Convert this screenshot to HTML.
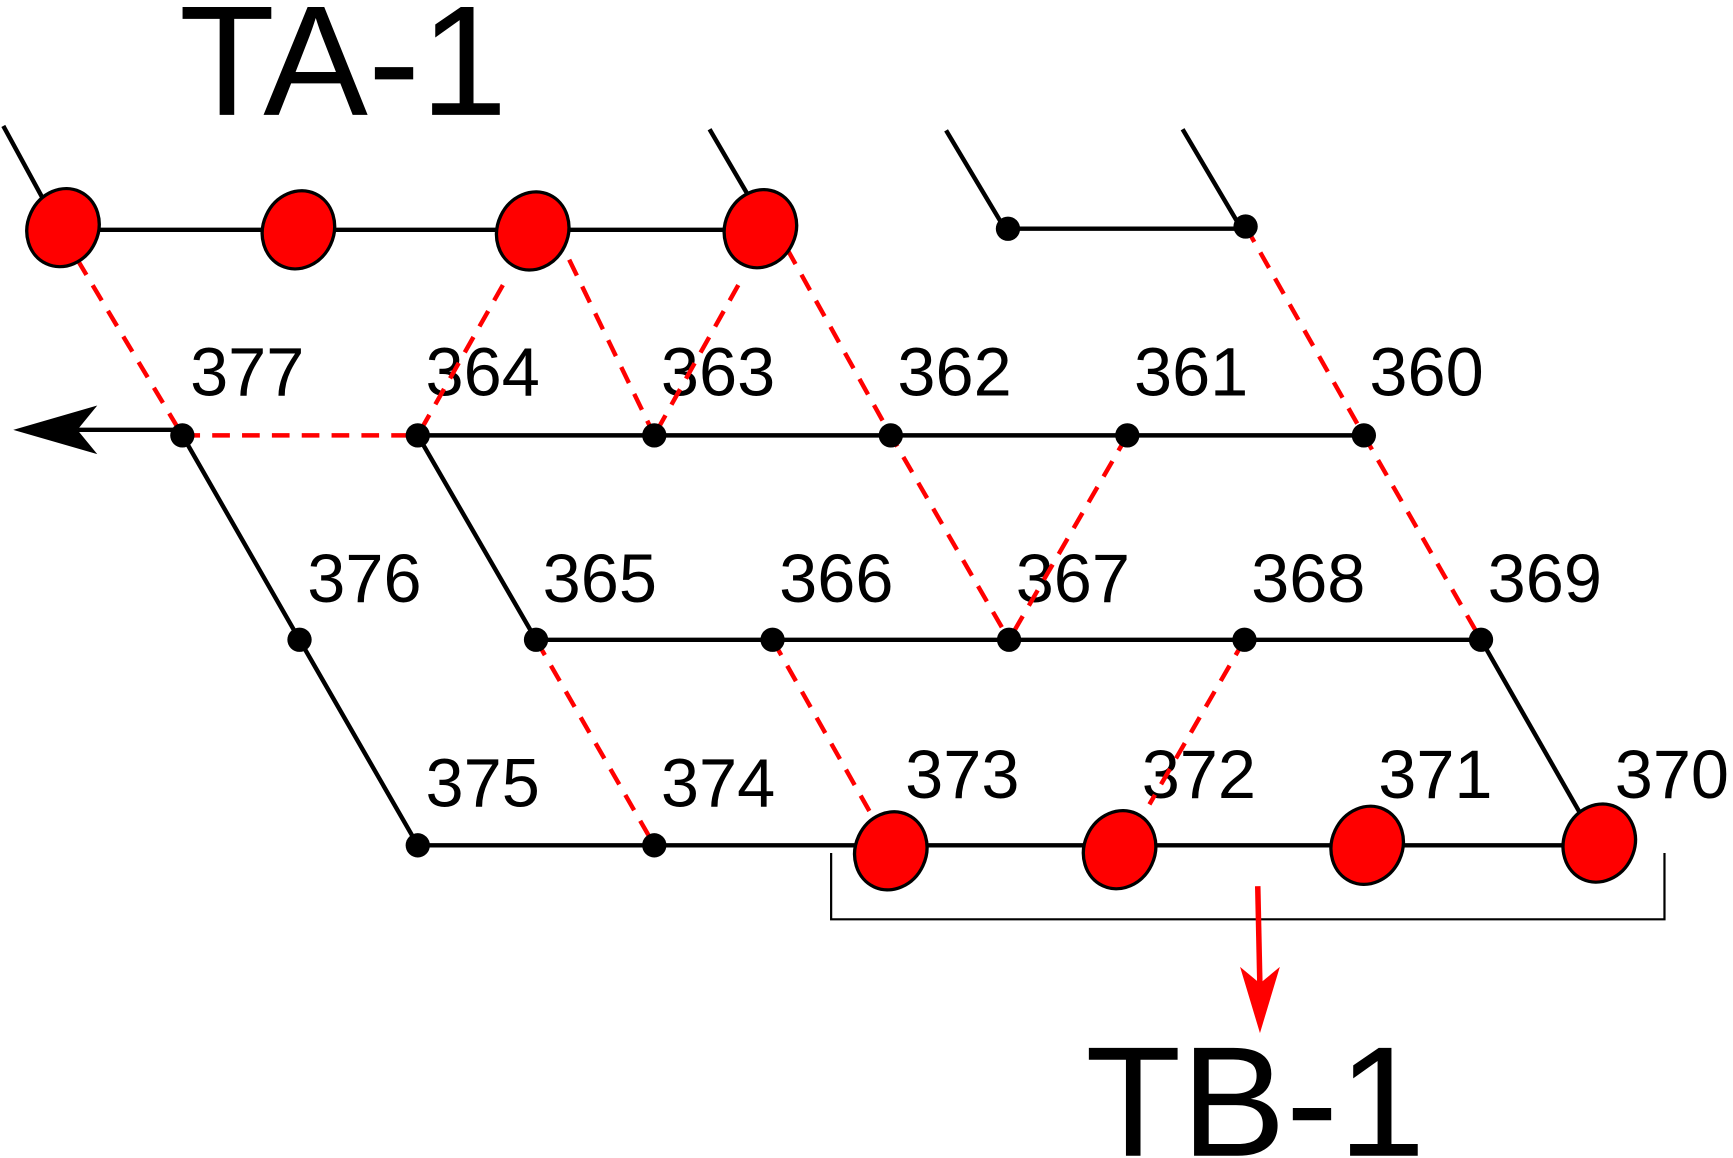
<!DOCTYPE html>
<html><head><meta charset="utf-8">
<style>html,body{margin:0;padding:0;background:#fff;width:1733px;height:1158px;overflow:hidden}</style>
</head><body>
<svg width="1733" height="1158" viewBox="0 0 1568 1048" preserveAspectRatio="none" xmlns="http://www.w3.org/2000/svg">
<g font-family="Liberation Sans, DejaVu Sans, sans-serif" fill="#000">
<text x="162" y="104" font-size="142">TA-1</text>
<text x="982" y="1046" font-size="142">TB-1</text>
<g font-size="62">
<text x="172" y="358">377</text><text x="385" y="358">364</text><text x="598" y="358">363</text>
<text x="812" y="358">362</text><text x="1026" y="358">361</text><text x="1239" y="358">360</text>
<text x="278" y="545">376</text><text x="491" y="545">365</text><text x="705" y="545">366</text>
<text x="919" y="545">367</text><text x="1132" y="545">368</text><text x="1346" y="545">369</text>
<text x="385" y="730">375</text><text x="598" y="730">374</text>
<text x="819" y="722">373</text><text x="1033" y="722">372</text><text x="1247" y="722">371</text><text x="1461" y="722">370</text>
</g>
</g>
<g stroke="#000" stroke-width="4" fill="none">
<line x1="57" y1="208" x2="688" y2="208"/>
<line x1="912" y1="207" x2="1127" y2="207"/>
<line x1="3" y1="114" x2="40" y2="182"/>
<line x1="642" y1="117" x2="680" y2="182"/>
<line x1="856" y1="118" x2="908" y2="205"/>
<line x1="1070" y1="117" x2="1122" y2="205"/>
<line x1="378" y1="394" x2="1234" y2="394"/>
<line x1="485" y1="579" x2="1340" y2="579"/>
<line x1="378" y1="765" x2="1447" y2="765"/>
<polyline points="165,394 271,579 378,765"/>
<line x1="378" y1="394" x2="485" y2="579"/>
<line x1="1340" y1="579" x2="1432" y2="740"/>
<line x1="165" y1="389" x2="70" y2="389"/>
</g>
<polygon points="12,389 88,367 70,389 88,411" fill="#000"/>
<g stroke="#f00" stroke-width="4" stroke-dasharray="16,11" fill="none">
<line x1="165" y1="394" x2="378" y2="394"/>
<line x1="70" y1="235" x2="165" y2="394"/>
<line x1="455" y1="258" x2="378" y2="394"/>
<line x1="515" y1="235" x2="592" y2="394"/>
<line x1="668" y1="258" x2="592" y2="394"/>
<polyline points="712,225 806,394 913,579"/>
<line x1="1020" y1="394" x2="913" y2="579"/>
<polyline points="1127,205 1234,394 1340,579"/>
<line x1="485" y1="579" x2="592" y2="765"/>
<line x1="699" y1="579" x2="790" y2="740"/>
<line x1="1126" y1="579" x2="1040" y2="728"/>
</g>
<g fill="#000">
<circle cx="912" cy="207" r="11"/><circle cx="1127" cy="205" r="11"/>
<circle cx="165" cy="394" r="11"/><circle cx="378" cy="394" r="11"/><circle cx="592" cy="394" r="11"/>
<circle cx="806" cy="394" r="11"/><circle cx="1020" cy="394" r="11"/><circle cx="1234" cy="394" r="11"/>
<circle cx="271" cy="579" r="11"/><circle cx="485" cy="579" r="11"/><circle cx="699" cy="579" r="11"/>
<circle cx="913" cy="579" r="11"/><circle cx="1126" cy="579" r="11"/><circle cx="1340" cy="579" r="11"/>
<circle cx="378" cy="765" r="11"/><circle cx="592" cy="765" r="11"/>
</g>
<g fill="#f00" stroke="#000" stroke-width="3">
<ellipse cx="57" cy="206" rx="32" ry="36" transform="rotate(25 57 206)"/>
<ellipse cx="270" cy="208" rx="32" ry="36" transform="rotate(25 270 208)"/>
<ellipse cx="482" cy="209" rx="32" ry="36" transform="rotate(25 482 209)"/>
<ellipse cx="688" cy="207" rx="32" ry="36" transform="rotate(25 688 207)"/>
<ellipse cx="806" cy="770" rx="32" ry="36" transform="rotate(25 806 770)"/>
<ellipse cx="1013" cy="769" rx="32" ry="36" transform="rotate(25 1013 769)"/>
<ellipse cx="1237" cy="765" rx="32" ry="36" transform="rotate(25 1237 765)"/>
<ellipse cx="1447" cy="763" rx="32" ry="36" transform="rotate(25 1447 763)"/>
</g>
<polyline points="752,772 752,832 1506,832 1506,772" fill="none" stroke="#000" stroke-width="2"/>
<line x1="1138" y1="802" x2="1140" y2="895" stroke="#f00" stroke-width="5"/>
<polygon points="1140,935 1122,875 1140,890 1158,875" fill="#f00"/>
</svg>
</body></html>
